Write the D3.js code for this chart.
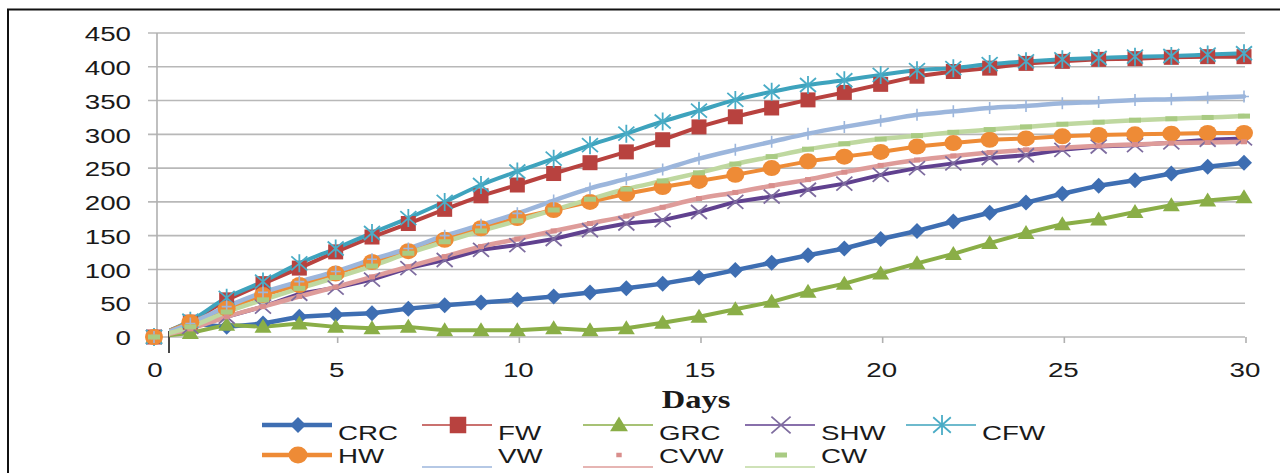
<!DOCTYPE html>
<html><head><meta charset="utf-8">
<script src="https://cdn.jsdelivr.net/npm/d3@7/dist/d3.min.js"></script>
<style>html,body{margin:0;padding:0;background:#fff;overflow:hidden}svg{display:block}</style>
</head><body>
<svg id="c" width="1280" height="473"></svg>
<script>
const days = d3.range(0, 31);
const yTicks = [0, 50, 100, 150, 200, 250, 300, 350, 400, 450];
const xTicks = [0, 5, 10, 15, 20, 25, 30];
const xTitle = "Days";

const CRC = [0,20,15,20,30,33,35,42,47,51,55,60,66,72,79,88,99,110,121,131,145,157,171,184,199,212,224,232,242,252,258];
const FW  = [0,22,55,79,102,126,148,168,189,209,225,242,258,274,292,311,326,339,351,362,374,386,393,398,405,408,411,412,414,415,415];
const GRC = [0,6,18,15,20,15,13,15,10,10,10,13,10,13,21,30,41,52,67,79,94,109,123,139,154,167,174,185,195,202,207];
const SHW = [0,15,30,45,64,73,85,102,114,129,136,145,158,168,173,185,200,208,218,227,240,250,257,265,269,277,282,284,288,292,294];
const CFW = [0,24,58,82,109,131,154,176,200,225,245,264,284,301,319,335,351,363,373,380,388,395,398,404,408,411,413,415,416,418,420];
const HW  = [0,22,42,62,77,94,111,127,144,161,176,188,200,212,222,231,240,250,260,267,274,282,287,292,294,297,299,300,301,302,302];
const VW  = [0,20,45,66,82,97,115,131,150,166,183,202,220,234,248,264,277,289,301,311,320,329,334,339,342,346,348,351,352,354,356];
const CVW = [0,12,30,45,60,74,89,104,119,134,145,157,168,179,192,205,214,224,233,244,254,262,268,273,277,280,283,285,287,288,289];
const CW  = [0,15,37,55,72,88,105,124,141,157,172,188,204,219,231,243,256,267,278,286,293,298,303,307,311,315,318,321,323,325,327];

const names = ["CRC","FW","GRC","SHW","CFW","HW","VW","CVW","CW"];
const valuesList = [CRC, FW, GRC, SHW, CFW, HW, VW, CVW, CW];

const style = {
  CRC: {color:"#3E6EB2", mcolor:"#3E6EB2", w:4.5, marker:"diamond", smooth:false},
  FW:  {color:"#B8423F", mcolor:"#B8423F", w:4,   marker:"square", smooth:false},
  GRC: {color:"#8AAE47", mcolor:"#8AAE47", w:4,   marker:"triangle", smooth:false},
  SHW: {color:"#60418F", mcolor:"#7E6C9F", w:4,   marker:"x", smooth:false},
  CFW: {color:"#3EA3BD", mcolor:"#4AACC6", w:4,   marker:"star", smooth:true},
  HW:  {color:"#EE8B36", mcolor:"#EE8B36", w:4,   marker:"circle", smooth:false},
  VW:  {color:"#9CB6DC", mcolor:"#9CB6DC", w:4.5, marker:"plus", smooth:true},
  CVW: {color:"#DE9C9A", mcolor:"#D98E8C", w:4.5, marker:"dot", smooth:true},
  CW:  {color:"#BFD8A0", mcolor:"#A9CB83", w:4.5, marker:"dash", smooth:true}
};

const SX = 1.32; // horizontal glyph stretch seen in reference
const svg = d3.select("#c");
const x = d3.scaleLinear().domain([0, 30]).range([154, 1244]);
const y = d3.scaleLinear().domain([0, 450]).range([337, 33]);

// outer frame
svg.append("rect").attr("x", 8).attr("y", 9.5).attr("width", 1290).attr("height", 480)
  .attr("fill", "none").attr("stroke", "#111").attr("stroke-width", 2);

// gridlines
svg.append("g").selectAll("line").data(yTicks).join("line")
  .attr("x1", 148).attr("x2", 1245)
  .attr("y1", d => y(d)).attr("y2", d => y(d))
  .attr("stroke", "#B8B8B8").attr("stroke-width", 1.6);
// y axis line
svg.append("line").attr("x1", 157).attr("x2", 157).attr("y1", y(450)).attr("y2", y(0))
  .attr("stroke", "#B0B0B0").attr("stroke-width", 1.6);
// x ticks
svg.append("g").selectAll("line").data(xTicks.filter(d => d > 0)).join("line")
  .attr("x1", d => x(d) + 2).attr("x2", d => x(d) + 2)
  .attr("y1", y(0)).attr("y2", y(0) + 6)
  .attr("stroke", "#B0B0B0").attr("stroke-width", 1.6);
// dark axis origin mark
svg.append("line").attr("x1", 169).attr("x2", 169).attr("y1", y(0) - 6).attr("y2", y(0) + 16)
  .attr("stroke", "#333").attr("stroke-width", 1.8);

function stext(parent, str, tx, ty, opts) {
  const o = Object.assign({size: 21, anchor: "start", family: "Liberation Sans, Arial, sans-serif", weight: "normal", sx: SX}, opts || {});
  return parent.append("text")
    .attr("transform", `translate(${tx},${ty}) scale(${o.sx},1)`)
    .attr("text-anchor", o.anchor)
    .attr("dominant-baseline", "central")
    .attr("font-family", o.family).attr("font-size", o.size).attr("font-weight", o.weight)
    .attr("fill", "#1a1a1a").text(str);
}

// tick labels
const gyl = svg.append("g");
yTicks.forEach(t => stext(gyl, String(t), 131, y(t) + 1, {anchor: "end"}));
const gxl = svg.append("g");
xTicks.forEach(t => stext(gxl, String(t), x(t) + 1, 370, {anchor: "middle"}));
stext(svg, xTitle, 696, 399, {anchor: "middle", size: 25, weight: "bold", family: "Liberation Serif, Times New Roman, serif", sx: 1.3});

// clip for lines
svg.append("clipPath").attr("id", "pc").append("rect").attr("x", 169).attr("y", 0).attr("width", 1111).attr("height", 473);

const series = names.map((n, i) => ({name: n, values: valuesList[i], st: style[n]}));

const gl = svg.append("g").attr("clip-path", "url(#pc)");
series.forEach(s => {
  const line = d3.line().x((d, i) => x(days[i])).y(d => y(d))
    .curve(s.st.smooth ? d3.curveCatmullRom.alpha(0.5) : d3.curveLinear);
  gl.append("path").datum(s.values).attr("d", line)
    .attr("fill", "none").attr("stroke", s.st.color).attr("stroke-width", s.st.w)
    .attr("stroke-linejoin", "round").attr("stroke-linecap", "round");
});

function drawMarker(g, type, cx, cy, color, scale) {
  const k = scale || 1;
  switch (type) {
    case "diamond":
      g.append("path").attr("d", `M${cx},${cy-8*k}L${cx+8*k},${cy}L${cx},${cy+8*k}L${cx-8*k},${cy}Z`).attr("fill", color); break;
    case "square":
      g.append("rect").attr("x", cx-7.5*k).attr("y", cy-7.5*k).attr("width", 15*k).attr("height", 15*k).attr("fill", color); break;
    case "triangle":
      g.append("path").attr("d", `M${cx},${cy-8*k}L${cx+8.5*k},${cy+6*k}L${cx-8.5*k},${cy+6*k}Z`).attr("fill", color); break;
    case "x":
      g.append("path").attr("d", `M${cx-8*k},${cy-7*k}L${cx+8*k},${cy+7*k}M${cx-8*k},${cy+7*k}L${cx+8*k},${cy-7*k}`)
        .attr("stroke", color).attr("stroke-width", 1.8).attr("fill", "none"); break;
    case "star":
      g.append("path").attr("d", `M${cx-8*k},${cy-7*k}L${cx+8*k},${cy+7*k}M${cx-8*k},${cy+7*k}L${cx+8*k},${cy-7*k}M${cx},${cy-9*k}L${cx},${cy+9*k}`)
        .attr("stroke", color).attr("stroke-width", 1.8).attr("fill", "none"); break;
    case "circle":
      g.append("ellipse").attr("cx", cx).attr("cy", cy).attr("rx", 9*k).attr("ry", 8*k).attr("fill", color); break;
    case "plus":
      g.append("path").attr("d", `M${cx},${cy-6*k}L${cx},${cy+6*k}M${cx-5*k},${cy}L${cx+5*k},${cy}`)
        .attr("stroke", color).attr("stroke-width", 1.6).attr("fill", "none"); break;
    case "dot":
      g.append("rect").attr("x", cx-3*k).attr("y", cy-2.5*k).attr("width", 6*k).attr("height", 5*k).attr("fill", color); break;
    case "dash":
      g.append("rect").attr("x", cx-6*k).attr("y", cy-2.5*k).attr("width", 12*k).attr("height", 5*k).attr("fill", color); break;
  }
}

const gm = svg.append("g");
series.forEach(s => {
  s.values.forEach((v, i) => drawMarker(gm, s.st.marker, x(days[i]), y(v), s.st.mcolor));
});

// legend
const legendRows = [
  {names: ["CRC","FW","GRC","SHW","CFW"], lineY: 425, textY: 433},
  {names: ["HW","VW","CVW","CW"], lineY: 455, textY: 456}
];
const colX = [262, 422, 583, 745, 906];
const lg = svg.append("g");
legendRows.forEach(row => {
  row.names.forEach((n, j) => {
    const st = style[n];
    const x0 = colX[j], x1 = x0 + 70, mx = x0 + 36;
    const thick = (n === "CRC" || n === "HW");
    const thin = (n === "VW" || n === "CVW" || n === "CW");
    const ly = thin ? row.lineY + 12 : row.lineY;
    lg.append("line").attr("x1", x0).attr("x2", x1).attr("y1", ly).attr("y2", ly)
      .attr("stroke", st.color).attr("stroke-width", thick ? 4.5 : 1.6);
    if (n !== "VW") {
      const mk = {CRC: 1, FW: 1.1, GRC: 1.05, SHW: 1.2, CFW: 1.1, HW: 1.05, CVW: 0.9, CW: 1}[n];
      drawMarker(lg, st.marker, mx, row.lineY, st.mcolor, mk);
    }
    stext(lg, n, x0 + 76, row.textY, {});
  });
});
</script>
</body></html>
